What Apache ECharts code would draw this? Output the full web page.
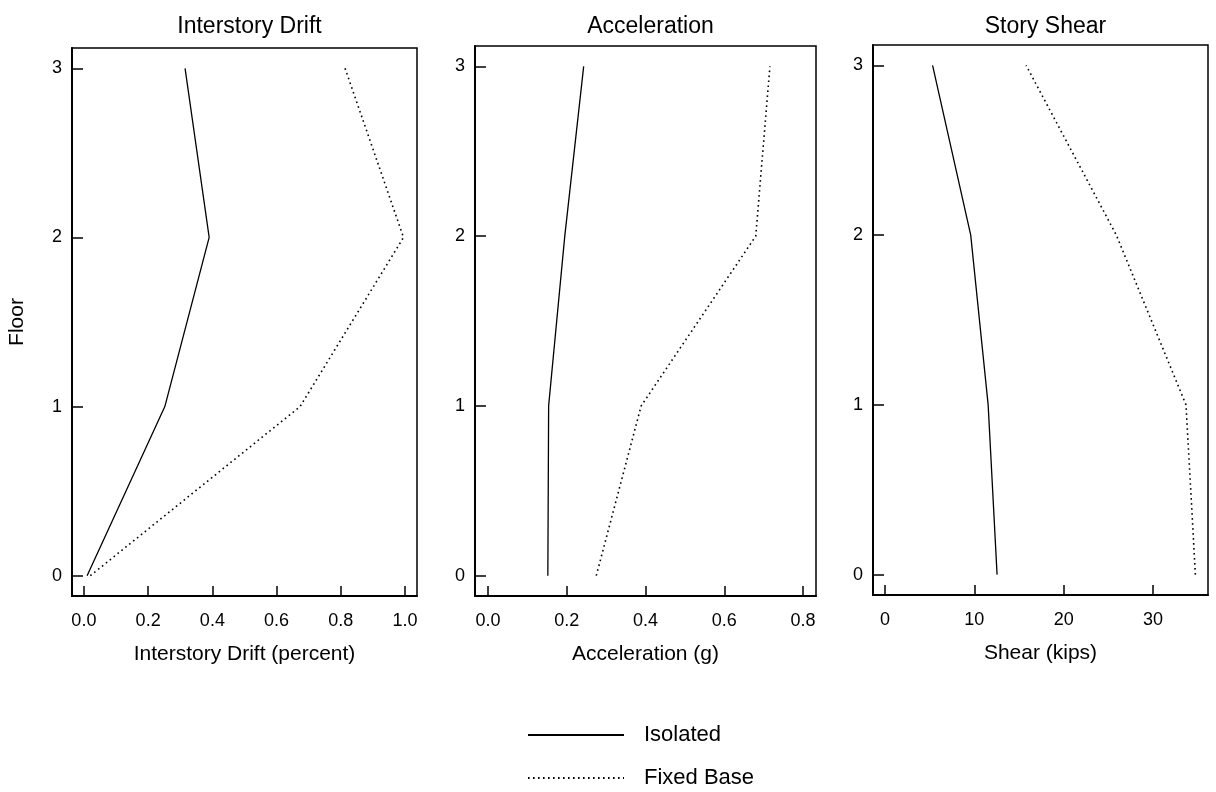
<!DOCTYPE html>
<html>
<head>
<meta charset="utf-8">
<title>Isolated vs Fixed Base response</title>
<script src="https://cdn.jsdelivr.net/npm/echarts@6.0.0/dist/echarts.min.js"></script>
<style>
  html, body { margin: 0; padding: 0; background: #fff; }
  #chart { width: 1216px; height: 792px; }
</style>
</head>
<body>
<div id="chart"></div>
<script>
// floors, bottom to top
const floors = [0, 1, 2, 3];

// values, one per floor
const driftIsolated = [0.01, 0.252, 0.39, 0.315];
const driftFixed = [0.02, 0.673, 0.995, 0.813];
const accIsolated = [0.152, 0.154, 0.195, 0.243];
const accFixed = [0.275, 0.389, 0.68, 0.716];
const shearIsolated = [12.55, 11.55, 9.6, 5.33];
const shearFixed = [34.75, 33.7, 25.9, 15.8];

const floorTicks = [0, 1, 2, 3];
const driftTicks = [0, 0.2, 0.4, 0.6, 0.8, 1.0];
const accTicks = [0, 0.2, 0.4, 0.6, 0.8];
const shearTicks = [0, 10, 20, 30];

const titles = ["Interstory Drift", "Acceleration", "Story Shear"];
const xNames = ["Interstory Drift (percent)", "Acceleration (g)", "Shear (kips)"];
const seriesNames = ["Isolated", "Fixed Base"];

const FONT = "'Liberation Sans', Arial, sans-serif";

const grids = [
  { left: 72, top: 48, width: 345, height: 548 },
  { left: 475, top: 46, width: 341, height: 550 },
  { left: 873, top: 45, width: 335, height: 550 },
];
const xRanges = [[-0.037, 1.037], [-0.033, 0.833], [-1.34, 36.16]];
const xTicks = [driftTicks, accTicks, shearTicks];
const xFormat = [(v) => v.toFixed(1), (v) => v.toFixed(1), (v) => String(v)];

const solidLine = { color: "#000", width: 1.3, type: "solid" };
const dottedLine = { color: "#000", width: 1.6, type: [1.6, 3.4] };

const pairs = (vals) => floors.map((f, i) => [vals[i], f]);

const chart = echarts.init(document.getElementById("chart"));

const legendBase = {
  left: 527,
  padding: 0,
  itemWidth: 96,
  itemHeight: 14,
  itemStyle: { opacity: 0 },
  textStyle: { fontFamily: FONT, fontSize: 22, color: "#000", padding: [0, 0, 0, 15] },
};

const option = {
  backgroundColor: "#fff",
  animation: false,
  title: titles.map((t, i) => ({
    text: t,
    left: grids[i].left + grids[i].width / 2,
    top: 10,
    textAlign: "center",
    textStyle: { fontFamily: FONT, fontSize: 23, fontWeight: "normal", color: "#000" },
  })),
  grid: grids.map((g) => ({
    ...g,
    show: true,
    borderColor: "#000",
    borderWidth: 1.5,
    containLabel: false,
  })),
  xAxis: grids.map((g, i) => ({
    type: "value",
    gridIndex: i,
    min: xRanges[i][0],
    max: xRanges[i][1],
    name: xNames[i],
    nameLocation: "middle",
    nameGap: 48,
    nameTextStyle: { fontFamily: FONT, fontSize: 21, color: "#000" },
    axisLine: { show: true, onZero: false, lineStyle: { color: "#000", width: 2 } },
    axisTick: {
      show: true,
      inside: true,
      length: 10,
      customValues: xTicks[i],
      lineStyle: { color: "#000", width: 1.5 },
    },
    axisLabel: {
      customValues: xTicks[i],
      formatter: xFormat[i],
      margin: 16,
      color: "#000",
      fontFamily: FONT,
      fontSize: 18,
    },
    splitLine: { show: false },
  })),
  yAxis: grids.map((g, i) => ({
    type: "value",
    gridIndex: i,
    min: -0.12,
    max: 3.12,
    name: i === 0 ? "Floor" : "",
    nameLocation: "middle",
    nameGap: 44,
    nameTextStyle: { fontFamily: FONT, fontSize: 21, color: "#000" },
    axisLine: { show: true, onZero: false, lineStyle: { color: "#000", width: 2 } },
    axisTick: {
      show: true,
      inside: true,
      length: 11,
      customValues: floorTicks,
      lineStyle: { color: "#000", width: 1.5 },
    },
    axisLabel: {
      customValues: floorTicks,
      formatter: (v) => String(Math.round(v)),
      margin: 10,
      color: "#000",
      fontFamily: FONT,
      fontSize: 18,
    },
    splitLine: { show: false },
  })),
  legend: [
    { ...legendBase, top: 724, data: [seriesNames[0]] },
    { ...legendBase, top: 767, data: [seriesNames[1]] },
  ],
  series: [],
};

const sets = [
  [driftIsolated, driftFixed],
  [accIsolated, accFixed],
  [shearIsolated, shearFixed],
];

sets.forEach(([iso, fix], i) => {
  option.series.push({
    name: seriesNames[0],
    type: "line",
    xAxisIndex: i,
    yAxisIndex: i,
    data: pairs(iso),
    symbol: "none",
    lineStyle: solidLine,
    itemStyle: { color: "#000" },
  });
  option.series.push({
    name: seriesNames[1],
    type: "line",
    xAxisIndex: i,
    yAxisIndex: i,
    data: pairs(fix),
    symbol: "none",
    lineStyle: dottedLine,
    itemStyle: { color: "#000" },
  });
});

chart.setOption(option);
</script>
</body>
</html>
